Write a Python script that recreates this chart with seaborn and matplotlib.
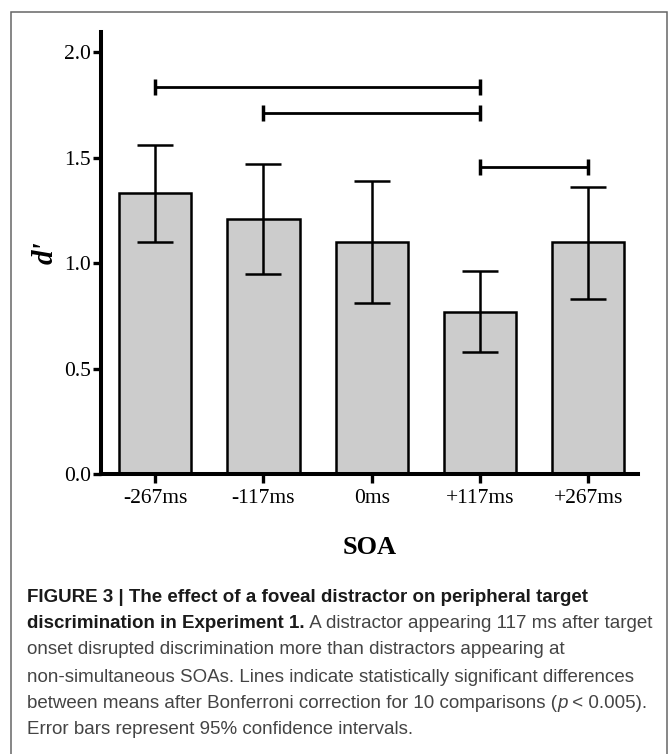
import numpy as np
import pandas as pd
import matplotlib
matplotlib.use('Agg')
import matplotlib.pyplot as plt
import seaborn as sns
from matplotlib.patches import Rectangle

# dados
soa = ['-267ms', '-117ms', '0ms', '+117ms', '+267ms']
d_prime = [1.33, 1.21, 1.10, 0.77, 1.10]
ci_low = [1.10, 0.95, 0.81, 0.58, 0.83]
ci_high = [1.56, 1.47, 1.39, 0.96, 1.36]

# comparações significativas (barra a, barra b, altura)
sig_a = [0, 1, 3]
sig_b = [3, 3, 4]
sig_y = [1.835, 1.71, 1.455]

df = pd.DataFrame({'SOA': soa, 'd': d_prime})

sns.set_style('white')
plt.rcParams['text.color'] = 'black'
serif = ['Liberation Serif', 'DejaVu Serif']
sans = ['Liberation Sans', 'DejaVu Sans']

fig = plt.figure(figsize=(6.7, 7.54), dpi=100)
W, H = 670, 754
ax = fig.add_axes([101 / W, (H - 474) / H, (638 - 101) / W, (474 - 32) / H])

sns.barplot(data=df, x='SOA', y='d', order=soa, color='#cccccc', saturation=1,
            width=0.667, edgecolor='black', linewidth=1.8, errorbar=None, ax=ax)

# intervalos de confiança 95%
means = np.array(d_prime)
yerr = [means - np.array(ci_low), np.array(ci_high) - means]
ax.errorbar(range(len(soa)), means, yerr=yerr, fmt='none', ecolor='black',
            elinewidth=1.8, capsize=13, capthick=1.8, zorder=5)

# linhas de significância
for a, b, y in zip(sig_a, sig_b, sig_y):
    ax.plot([a, b], [y, y], color='black', lw=2, marker='|', markersize=11,
            mew=2.5, solid_capstyle='butt', clip_on=False)

ax.set_xlim(-0.5, 4.46)
ax.set_ylim(0, 2.095)
ax.set_yticks([0, 0.5, 1.0, 1.5, 2.0])
ax.set_yticklabels(['0.0', '0.5', '1.0', '1.5', '2.0'])
ax.set_xlabel('')
ax.set_ylabel('')
sns.despine(ax=ax)
for s in ['left', 'bottom']:
    ax.spines[s].set_linewidth(2.9)
    ax.spines[s].set_color('black')
ax.tick_params(axis='y', length=6, width=2.4, pad=1, left=True, color='black', labelcolor='black')
ax.tick_params(axis='x', length=6.5, width=2.4, pad=4, bottom=True, color='black', labelcolor='black')
for lab in ax.get_xticklabels() + ax.get_yticklabels():
    lab.set_family(serif)
    lab.set_fontsize(15.5)

fig.text(45 / W, (H - 253) / H, "d'", rotation=90, family=serif, fontsize=21,
         fontweight='bold', fontstyle='italic', ha='center', va='center')
fig.text(370 / W, (H - 548) / H, 'SOA', family=serif, fontsize=19,
         fontweight='bold', ha='center', va='center')

# moldura
fig.patches.append(Rectangle((11 / W, -0.05), (667 - 11) / W, (H - 12) / H + 0.05,
                             transform=fig.transFigure, fill=False,
                             edgecolor='#666666', linewidth=1.1))

# legenda da figura (segmentos: texto, peso, estilo)
fs = 13.5
dark = '#1a1a1a'
gray = '#444444'
x0 = 27
lines = [
    [('FIGURE 3 | The effect of a foveal distractor on peripheral target', 'bold', 'normal')],
    [('discrimination in Experiment 1.', 'bold', 'normal'),
     (' A distractor appearing 117 ms after target', 'normal', 'normal')],
    [('onset disrupted discrimination more than distractors appearing at', 'normal', 'normal')],
    [('non-simultaneous SOAs. Lines indicate statistically significant differences', 'normal', 'normal')],
    [('between means after Bonferroni correction for 10 comparisons (', 'normal', 'normal'),
     ('p', 'normal', 'italic'), (' < 0.005).', 'normal', 'normal')],
    [('Error bars represent 95% confidence intervals.', 'normal', 'normal')],
]
ys = [598, 624, 650, 677, 703, 730]

renderer = fig.canvas.get_renderer()
for segs, yy in zip(lines, ys):
    xr = x0
    for txt, wt, st in segs:
        col = dark if wt == 'bold' else gray
        t = fig.text(xr / W, (H - yy) / H, txt, family=sans, fontsize=fs,
                     fontweight=wt, fontstyle=st, color=col, ha='left', va='center')
        xr = t.get_window_extent(renderer).x1

fig.savefig('out.png', dpi=100)
